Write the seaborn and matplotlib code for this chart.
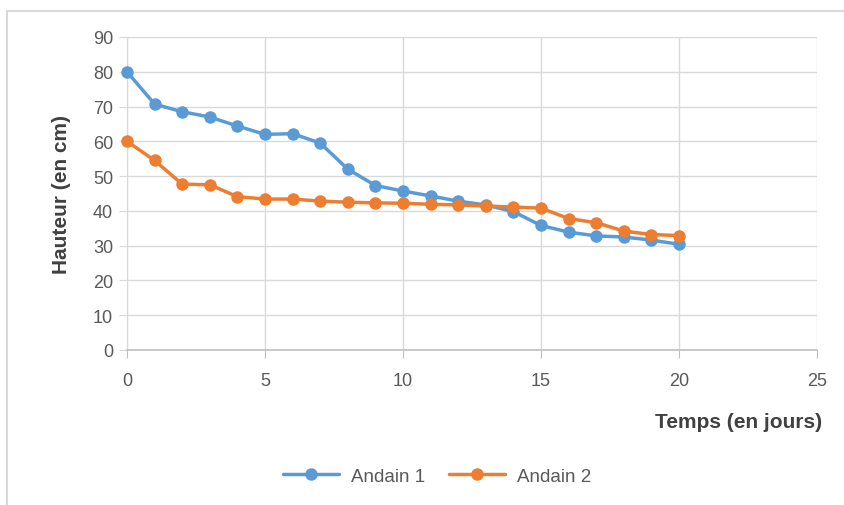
import pandas as pd
import seaborn as sns
import matplotlib.pyplot as plt
from matplotlib.patches import Rectangle

days = list(range(21))
andain_1 = [80, 70.7, 68.5, 67, 64.4, 62, 62.2, 59.5, 52, 47.3, 45.7,
            44.3, 42.8, 41.7, 39.8, 35.8, 33.9, 32.8, 32.5, 31.6, 30.4]
andain_2 = [60, 54.5, 47.7, 47.5, 44.1, 43.4, 43.4, 42.8, 42.5, 42.3, 42.2,
            41.9, 41.7, 41.4, 41.1, 40.8, 37.8, 36.6, 34.2, 33.2, 32.9]
series = ["Andain 1", "Andain 2"]
colors = ["#5B9BD5", "#ED7D31"]

df = pd.DataFrame({
    "Temps": days * 2,
    "Hauteur": andain_1 + andain_2,
    "Serie": [series[0]] * len(days) + [series[1]] * len(days),
})

sns.set_style("white")
plt.rcParams['font.family'] = ['Liberation Sans', 'DejaVu Sans']

fig = plt.figure(figsize=(8.45, 5.06), dpi=100)
ax = fig.add_axes([127/845, 1 - 351/506, (817 - 127)/845, (351 - 38)/506])

sns.lineplot(data=df, x="Temps", y="Hauteur", hue="Serie", palette=colors,
             marker="o", markersize=9, markeredgewidth=0, linewidth=2.5,
             ax=ax, legend=False)
for ln in ax.lines:
    ln.set_clip_on(False)
    ln.set_zorder(3)

ax.set_xlim(0, 25)
ax.set_ylim(0, 90)
ax.set_xticks(range(0, 26, 5))
ax.set_yticks(range(0, 91, 10))
ax.grid(True, color="#D9D9D9", linewidth=1)
ax.set_axisbelow(True)
ax.set_xlabel("")
ax.set_ylabel("")
for s in ["top", "right"]:
    ax.spines[s].set_visible(False)
ax.spines["left"].set_color("#D9D9D9")
ax.spines["bottom"].set_color("#BFBFBF")
ax.spines["bottom"].set_linewidth(1.2)
ax.tick_params(axis="both", colors="#595959", labelsize=13, length=6,
               direction="out", left=True, bottom=True)
ax.tick_params(axis="y", color="#D9D9D9", pad=4)
ax.tick_params(axis="x", color="#BFBFBF", pad=10)
ax.margins(0)

fig.text(62/845, 1 - 195/506, "Hauteur (en cm)", rotation=90, ha="center",
         va="center", fontsize=15, fontweight="bold", color="#404040")
fig.text(822/845, 1 - 423/506, "Temps (en jours)", ha="right", va="center",
         fontsize=15, fontweight="bold", color="#404040")

handles = [plt.Line2D([], [], color=c, marker="o", markersize=9,
                      markeredgewidth=0, linewidth=2.5) for c in colors]
fig.legend(handles, series, loc="center", bbox_to_anchor=(437/845, 1 - 477/506),
           ncol=2, frameon=False, fontsize=13.5, labelcolor="#595959",
           handlelength=3, handletextpad=0.6, columnspacing=1.3)

fig.patches.append(Rectangle((7/845, -0.1), 1.2, 1 - 12/506 + 0.1,
                             transform=fig.transFigure, fill=False,
                             edgecolor="#D9D9D9", linewidth=1.5))

fig.savefig("out.png", dpi=100)
